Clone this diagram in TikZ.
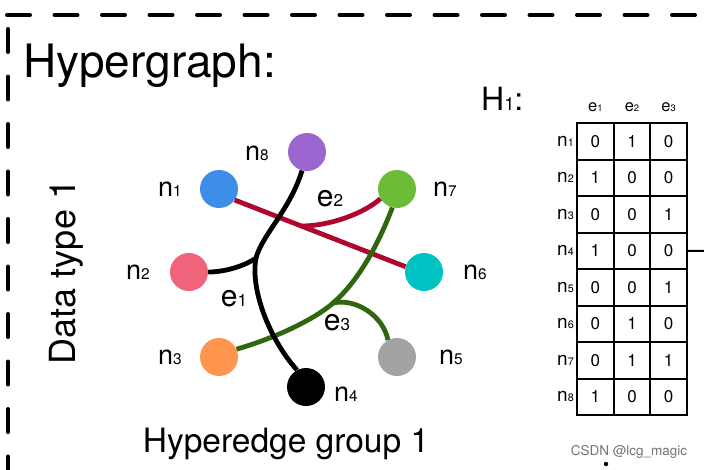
\documentclass[tikz,border=0pt]{standalone}
\usepackage{fontspec}
\setmainfont{TeX Gyre Heros}
\usepackage{xcolor}
\usetikzlibrary{calc}

\definecolor{vpurple}{HTML}{9B66D0}
\definecolor{vblue}{HTML}{3D8EE8}
\definecolor{vgreen}{HTML}{6ABD35}
\definecolor{vpink}{HTML}{EF637B}
\definecolor{vteal}{HTML}{00C2C2}
\definecolor{vorange}{HTML}{FF9650}
\definecolor{vgray}{HTML}{A3A3A3}
\definecolor{edgered}{HTML}{B0062E}
\definecolor{edgegreen}{HTML}{2F6610}

\newcommand\fs[1]{\fontsize{#1}{#1}\selectfont}
\makeatletter
\newcommand\idx[1]{{\fontsize{\fpeval{0.57*\f@size}}{0}\selectfont #1}}
\makeatother

\begin{document}
\begin{tikzpicture}[x=1pt, y=-1pt,
    vertex/.style={circle, minimum size=38pt, inner sep=0pt},
    vlabel/.style={font=\fs{27}, inner sep=0pt},
    elabel/.style={font=\fs{30}, inner sep=0pt},
    hedge/.style={line width=4.8pt},
    cell/.style={draw, line width=2pt, minimum width=36.67pt, minimum height=36.5pt, inner sep=0pt, font=\fs{17}},
    rowlab/.style={anchor=east, inner sep=0pt, font=\fs{19}},
    collab/.style={inner sep=0pt, font=\fs{16.5}},
    frame/.style={line width=4pt, line cap=round, dash pattern=on 23pt off 24.5pt}]
  \useasboundingbox (0,0) rectangle (704,469);
  \clip (0,0) rectangle (704,469);

  % dashed frame
  \draw[frame] (7,15) -- (730,15);
  \draw[frame] (8,29) -- (8,500);

  \node[anchor=base west, inner sep=0pt, font=\fs{46}] (title) at (23,77) {Hypergraph:};
  \node[rotate=90, anchor=base, inner sep=0pt, font=\fs{36}] (dtype) at (75,272) {Data type 1};

  % vertices
  \node[vertex, fill=vpurple] (n8) at (307,152) {};
  \node[vertex, fill=vblue] (n1) at (219,189) {};
  \node[vertex, fill=vgreen] (n7) at (397,189) {};
  \node[vertex, fill=vpink] (n2) at (189,272) {};
  \node[vertex, fill=vteal] (n6) at (424,272) {};
  \node[vertex, fill=vorange] (n3) at (219,357) {};
  \node[vertex, fill=vgray] (n5) at (397,357) {};
  \node[vertex, fill=black] (n4) at (306,387) {};

  \node[vlabel] (l8) at (257,153) {n\idx{8}};
  \node[vlabel] (l1) at (170,189) {n\idx{1}};
  \node[vlabel] (l7) at (445,189) {n\idx{7}};
  \node[vlabel] (l2) at (138,272) {n\idx{2}};
  \node[vlabel] (l6) at (475,272) {n\idx{6}};
  \node[vlabel] (l3) at (170,357) {n\idx{3}};
  \node[vlabel] (l5) at (451,357) {n\idx{5}};
  \node[vlabel] (l4) at (346,394) {n\idx{4}};

  % hyperedges
  \draw[hedge, draw=edgered] (n1.-35) -- coordinate[pos=0.39] (j2) (n6.164);
  \draw[hedge, draw=edgered] (j2) .. controls (330,226) and (365,213) .. (n7.210);

  \coordinate (j3) at (333,303);
  \draw[hedge, draw=edgegreen] (n3.24) .. controls (285,335) and (320,315) .. (j3)
    .. controls (360,280) and (380,240) .. (n7.256);
  \draw[hedge, draw=edgegreen] (j3) .. controls (355,298) and (383,315) .. (n5.118);

  \coordinate (j1) at (256,258);
  \draw[hedge] (n8.255) .. controls (290,210) and (262,235) .. (j1)
    .. controls (248,264) and (228,272) .. (n2.east);
  \draw[hedge] (j1) .. controls (250,290) and (270,340) .. (n4.118);

  \node[elabel] (e1) at (234,299) {e\idx{1}};
  \node[elabel] (e2) at (330,199) {e\idx{2}};
  \node[elabel] (e3) at (337,323) {e\idx{3}};

  \node[anchor=base, inner sep=0pt, font=\fs{33.5}] (group) at (286,452) {Hyperedge group 1};

  % incidence matrix
  \node[anchor=base west, inner sep=0pt, font=\fs{32}] (hname) at (481,110) {H\idx{1}:};
  \foreach \c in {1,2,3}
    \node[collab] (h\c) at (558.67+36.67*\c, 107) {e\idx{\c}};
  \foreach \row [count=\r] in {{0,1,0},{1,0,0},{0,0,1},{1,0,0},{0,0,1},{0,1,0},{0,1,1},{1,0,0}} {
    \node[rowlab] (r\r) at (574, 104.75+36.5*\r) {n\idx{\r}};
    \foreach \v [count=\c] in \row
      \node[cell] (c\r\c) at (558.67+36.67*\c, 104.75+36.5*\r) {\v};
  }
  \coordinate (rim) at (712,251);
  \draw[line width=2pt] (c43.east) -- (rim);

  \node[font=\fs{13.5}, text=black!55, inner sep=0pt] (mark) at (629,452) {CSDN @lcg\_magic};
  \node[circle, fill=black, inner sep=0pt, minimum size=4.5pt] (dot) at (606,464) {};
\end{tikzpicture}
\end{document}
